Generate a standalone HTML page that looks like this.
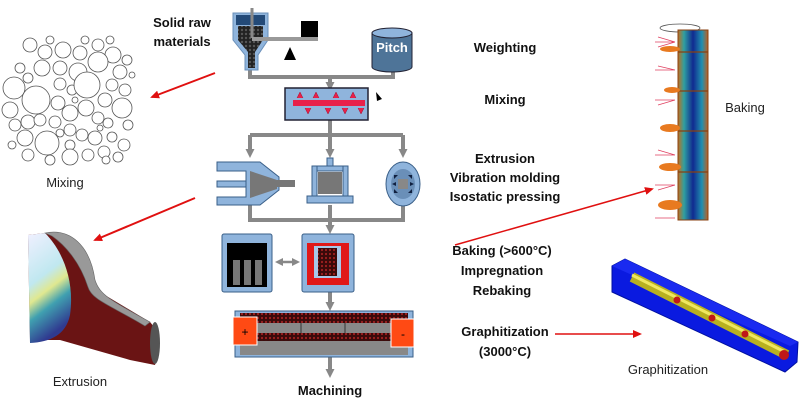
<!DOCTYPE html>
<html><head><meta charset="utf-8"><style>
body{margin:0;background:#fff}
svg{display:block}
text{font-family:"Liberation Sans",sans-serif}
.b{font-weight:bold;font-size:13px;fill:#111}
.n{font-size:13px;fill:#222}
</style></head><body>
<svg width="800" height="412" viewBox="0 0 800 412" xmlns="http://www.w3.org/2000/svg">
<defs>
<marker id="ga" markerUnits="userSpaceOnUse" markerWidth="9" markerHeight="9" refX="5" refY="4.5" orient="auto"><path d="M0,0L9,4.5L0,9z" fill="#888"/></marker>
<marker id="ra" markerUnits="userSpaceOnUse" markerWidth="9" markerHeight="8" refX="7" refY="4" orient="auto"><path d="M0,0L9,4L0,8z" fill="#e01010"/></marker>
<pattern id="dots" width="4" height="4" patternUnits="userSpaceOnUse"><rect width="4" height="4" fill="#222"/><circle cx="2" cy="2" r="1.2" fill="#555"/></pattern>
<pattern id="rdots" width="4" height="4" patternUnits="userSpaceOnUse"><rect width="4" height="4" fill="#3a0a0a"/><circle cx="2" cy="2" r="1.1" fill="#a02020"/></pattern>
<linearGradient id="bk" x1="0" x2="1"><stop offset="0" stop-color="#c07020"/><stop offset="0.2" stop-color="#30a0a0"/><stop offset="0.5" stop-color="#102a90"/><stop offset="0.8" stop-color="#2090b0"/><stop offset="1" stop-color="#c06020"/></linearGradient>
<linearGradient id="face" x1="0" y1="0" x2="0.3" y2="1"><stop offset="0" stop-color="#f0f0ff"/><stop offset="0.45" stop-color="#c0e8f0"/><stop offset="0.6" stop-color="#e0e890"/><stop offset="0.75" stop-color="#40a0b0"/><stop offset="1" stop-color="#303a90"/></linearGradient>
</defs>

<!-- bubbles -->
<g fill="#fff" stroke="#555" stroke-width="0.8">
<circle cx="30" cy="45" r="7"/><circle cx="45" cy="52" r="7"/><circle cx="63" cy="50" r="8"/><circle cx="80" cy="53" r="7"/><circle cx="98" cy="45" r="6"/><circle cx="113" cy="55" r="8"/><circle cx="42" cy="68" r="8"/><circle cx="60" cy="68" r="7"/><circle cx="78" cy="72" r="9"/><circle cx="98" cy="62" r="10"/><circle cx="120" cy="72" r="7"/><circle cx="127" cy="60" r="5"/><circle cx="14" cy="88" r="11"/><circle cx="36" cy="100" r="14"/><circle cx="60" cy="84" r="6"/><circle cx="72" cy="90" r="5"/><circle cx="87" cy="85" r="13"/><circle cx="112" cy="85" r="6"/><circle cx="125" cy="90" r="6"/><circle cx="10" cy="110" r="8"/><circle cx="58" cy="103" r="7"/><circle cx="70" cy="113" r="8"/><circle cx="86" cy="108" r="8"/><circle cx="105" cy="100" r="7"/><circle cx="122" cy="108" r="10"/><circle cx="15" cy="125" r="6"/><circle cx="28" cy="122" r="7"/><circle cx="40" cy="120" r="6"/><circle cx="55" cy="122" r="6"/><circle cx="98" cy="118" r="6"/><circle cx="108" cy="123" r="5"/><circle cx="25" cy="138" r="8"/><circle cx="47" cy="143" r="12"/><circle cx="70" cy="130" r="6"/><circle cx="82" cy="135" r="6"/><circle cx="95" cy="138" r="7"/><circle cx="112" cy="137" r="5"/><circle cx="124" cy="145" r="6"/><circle cx="70" cy="145" r="5"/><circle cx="28" cy="155" r="6"/><circle cx="70" cy="157" r="8"/><circle cx="88" cy="155" r="6"/><circle cx="104" cy="152" r="6"/><circle cx="106" cy="160" r="4"/><circle cx="118" cy="157" r="5"/><circle cx="50" cy="160" r="5"/><circle cx="12" cy="145" r="4"/><circle cx="128" cy="125" r="5"/><circle cx="20" cy="68" r="5"/><circle cx="28" cy="78" r="5"/><circle cx="50" cy="40" r="4"/><circle cx="85" cy="40" r="4"/><circle cx="110" cy="40" r="4"/><circle cx="132" cy="75" r="3"/><circle cx="60" cy="133" r="4"/><circle cx="75" cy="100" r="3"/><circle cx="100" cy="128" r="3"/>
</g>
<text x="65" y="187" class="n" text-anchor="middle">Mixing</text>
<line x1="215" y1="73" x2="152" y2="97" stroke="#e01010" stroke-width="2" marker-end="url(#ra)"/>
<line x1="195" y1="198" x2="95" y2="240" stroke="#e01010" stroke-width="2" marker-end="url(#ra)"/>

<!-- extrusion shape -->
<path d="M45,233 C65,238 78,255 88,285 L150,322 C158,330 160,350 155,365 L130,360 L60,340 L30,340 L28,235 Z" fill="#6a1414"/>
<path d="M28,235 L45,233 C62,250 75,280 70,315 C66,335 50,342 30,343 Z" fill="url(#face)"/>
<path d="M45,233 C70,228 90,245 95,280 C100,295 110,300 150,322 L145,326 C110,305 92,300 88,287 C80,262 65,245 52,236Z" fill="#999" stroke="#666" stroke-width="0.6"/>
<ellipse cx="155" cy="343" rx="5" ry="21" fill="#555"/>
<text x="80" y="386" class="n" text-anchor="middle">Extrusion</text>

<!-- central flow -->
<g stroke="#888" stroke-width="4" fill="none">
<path d="M250,70 V77 H393 V72"/>
<path d="M330,77 V87" marker-end="url(#ga)"/>
<path d="M330,120 V135"/>
<path d="M250,135 H403"/>
<path d="M250,135 V154" marker-end="url(#ga)"/><path d="M330,135 V154" marker-end="url(#ga)"/><path d="M403,135 V154" marker-end="url(#ga)"/>
<path d="M250,205 V220 H403 V205"/><path d="M330,205 V220"/>
<path d="M330,220 V230" marker-end="url(#ga)"/>
<path d="M330,292 V307" marker-end="url(#ga)"/>
<path d="M330,357 V374" marker-end="url(#ga)"/>
</g>
<path d="M283,262 H292" stroke="#888" stroke-width="2.5"/>
<path d="M275,262 l8,-4 v8z M300,262 l-8,-4 v8z" fill="#888"/>
<!-- hopper -->
<path d="M233,13 H268 V40 L258,55 V70 H245 V55 L233,40 Z" fill="#8fb4dc" stroke="#6a8fb8"/>
<path d="M238,26 H263 V40 L255,52 V68 H248 V52 L238,40Z" fill="url(#dots)"/>
<rect x="236" y="15" width="29" height="10" fill="#234a78"/>
<line x1="252" y1="8" x2="252" y2="38" stroke="#888" stroke-width="3"/>
<rect x="252" y="37" width="66" height="4" fill="#999"/>
<rect x="301" y="21" width="17" height="16" fill="#000"/>
<path d="M290,47 L296,60 H284Z" fill="#000"/>
<!-- pitch -->
<path d="M372,33 V67 A20,5 0 0 0 412,67 V33Z" fill="#4e7498" stroke="#223"/>
<ellipse cx="392" cy="33" rx="20" ry="5" fill="#8fb4dc" stroke="#223"/>
<text x="392" y="52" font-size="13" font-weight="bold" fill="#fff" text-anchor="middle">Pitch</text>
<!-- mixer -->
<rect x="285" y="88" width="83" height="32" fill="#8fb4dc" stroke="#223" stroke-width="1.5"/>
<rect x="293" y="100" width="72" height="6" fill="#e8204a"/>
<path d="M297,98 l3,-6 l3,6 M313,98 l3,-6 l3,6 M333,98 l3,-6 l3,6 M350,98 l3,-6 l3,6 M305,108 l3,6 l3,-6 M325,108 l3,6 l3,-6 M342,108 l3,6 l3,-6 M358,108 l3,6 l3,-6" fill="#e8204a" stroke="#a01030" stroke-width="0.5"/>
<path d="M376,92 l6,7 l-5,2z" fill="#000"/>
<!-- extruder -->
<path d="M217,162 H260 L279,177 V190 L260,205 H217 V197 H246 V171 H217Z" fill="#8fb4dc" stroke="#3a5f88"/>
<rect x="217" y="181" width="29" height="6" fill="#8fb4dc" stroke="#3a5f88"/>
<path d="M250,171 L277,180 V189 L250,198Z" fill="#777"/>
<rect x="277" y="180" width="18" height="7" fill="#777"/>
<!-- press -->
<rect x="327" y="158" width="6" height="10" fill="#8fb4dc" stroke="#3a5f88"/>
<rect x="312" y="166" width="36" height="5" fill="#8fb4dc" stroke="#3a5f88"/>
<rect x="312" y="166" width="5" height="31" fill="#8fb4dc" stroke="#3a5f88"/><rect x="343" y="166" width="5" height="31" fill="#8fb4dc" stroke="#3a5f88"/>
<rect x="318" y="172" width="24" height="22" fill="#777"/>
<rect x="307" y="196" width="46" height="7" fill="#8fb4dc" stroke="#3a5f88"/>
<!-- iso -->
<ellipse cx="403" cy="184" rx="17" ry="22" fill="#8fb4dc" stroke="#3a5f88"/>
<ellipse cx="403" cy="184" rx="12" ry="15" fill="#6a8fb8"/>
<rect x="398" y="179" width="10" height="10" fill="#888"/>
<g fill="#102040"><path d="M394,175 l4,0 l-4,4z"/><path d="M412,175 l-4,0 l4,4z"/><path d="M394,193 l4,0 l-4,-4z"/><path d="M412,193 l-4,0 l4,-4z"/><path d="M392,184 l4,-2 v4z"/><path d="M414,184 l-4,-2 v4z"/></g>
<!-- furnaces -->
<rect x="222" y="234" width="50" height="58" rx="2" fill="#8fb4dc" stroke="#3a5f88"/>
<rect x="227" y="243" width="40" height="44" fill="#000"/>
<rect x="233" y="260" width="7" height="25" fill="#777"/><rect x="244" y="260" width="7" height="25" fill="#777"/><rect x="255" y="260" width="7" height="25" fill="#777"/>
<rect x="302" y="234" width="52" height="58" rx="2" fill="#8fb4dc" stroke="#3a5f88"/>
<rect x="307" y="243" width="42" height="42" fill="#e01818"/>
<rect x="314" y="246" width="27" height="32" fill="#a8c8e8"/>
<rect x="318" y="248" width="19" height="28" fill="url(#rdots)"/>
<!-- graphitization furnace -->
<rect x="235" y="311" width="178" height="46" fill="#8fb4dc" stroke="#3a5f88"/>
<rect x="240" y="313" width="168" height="42" fill="#888"/>
<rect x="240" y="313" width="168" height="10" fill="url(#rdots)"/>
<rect x="240" y="333" width="168" height="8" fill="url(#rdots)"/>
<line x1="301" y1="323" x2="301" y2="333" stroke="#333"/><line x1="345" y1="323" x2="345" y2="333" stroke="#333"/>
<rect x="233" y="317" width="24" height="28" fill="#ff4a14" stroke="#fff"/>
<rect x="391" y="319" width="23" height="28" fill="#ff4a14" stroke="#fff"/>
<text x="245" y="336" font-size="12" text-anchor="middle">+</text>
<text x="403" y="338" font-size="12" text-anchor="middle">-</text>
<text x="330" y="395" class="b" text-anchor="middle">Machining</text>

<!-- labels -->
<text x="182" y="27" class="b" text-anchor="middle" font-size="14">Solid raw</text>
<text x="182" y="46" class="b" text-anchor="middle" font-size="14">materials</text>
<g class="b" text-anchor="middle">
<text x="505" y="52" class="b">Weighting</text>
<text x="505" y="104" class="b">Mixing</text>
<text x="505" y="163" class="b">Extrusion</text>
<text x="505" y="182" class="b">Vibration molding</text>
<text x="505" y="201" class="b">Isostatic pressing</text>
<text x="502" y="255" class="b">Baking (&gt;600°C)</text>
<text x="502" y="275" class="b">Impregnation</text>
<text x="502" y="295" class="b">Rebaking</text>
<text x="505" y="336" class="b">Graphitization</text>
<text x="505" y="356" class="b">(3000°C)</text>
</g>
<line x1="455" y1="245" x2="652" y2="189" stroke="#e01010" stroke-width="1.5" marker-end="url(#ra)"/>
<line x1="555" y1="334" x2="640" y2="334" stroke="#e01010" stroke-width="1.5" marker-end="url(#ra)"/>

<!-- baking column -->
<ellipse cx="680" cy="28" rx="20" ry="4" fill="none" stroke="#555" stroke-width="0.8"/>
<rect x="678" y="30" width="30" height="190" fill="url(#bk)" stroke="#8a4010"/>
<g stroke="#8a4010" stroke-width="1.2"><line x1="678" y1="52" x2="708" y2="52"/><line x1="678" y1="91" x2="708" y2="91"/><line x1="678" y1="131" x2="708" y2="131"/><line x1="678" y1="172" x2="708" y2="172"/></g>
<g fill="#e87a20"><ellipse cx="670" cy="49" rx="10" ry="3"/><ellipse cx="672" cy="90" rx="8" ry="3"/><ellipse cx="670" cy="128" rx="10" ry="4"/><ellipse cx="670" cy="167" rx="11" ry="4"/><ellipse cx="670" cy="205" rx="12" ry="5"/></g>
<g stroke="#e04060" stroke-width="0.8"><path d="M655,42 h20 M658,37 l17,5 M658,47 l17,-5 M655,70 h20 M658,66 l17,4 M655,100 h20 M658,105 l17,-5 M655,155 h20 M658,150 l17,5 M655,185 h20 M658,190 l17,-5 M655,218 h20"/></g>
<text x="745" y="112" class="n" text-anchor="middle">Baking</text>

<!-- graphitization bar -->
<path d="M612,266 L625,259 L798,342 L797,362 L785,372 L612,292 Z" fill="#0a1ae0" stroke="#0010a0"/>
<path d="M612,266 L625,259 L798,342 L790,346 Z" fill="#1a2af0"/>
<path d="M632,277 L787,355" stroke="#b8b020" stroke-width="10"/>
<path d="M632,275 L787,353" stroke="#f0e860" stroke-width="3"/>
<g fill="#c01818"><circle cx="677" cy="300" r="3.5"/><circle cx="712" cy="318" r="3.5"/><circle cx="745" cy="334" r="3.5"/><circle cx="784" cy="355" r="5"/></g>
<text x="668" y="374" class="n" text-anchor="middle">Graphitization</text>
</svg>
</body></html>
